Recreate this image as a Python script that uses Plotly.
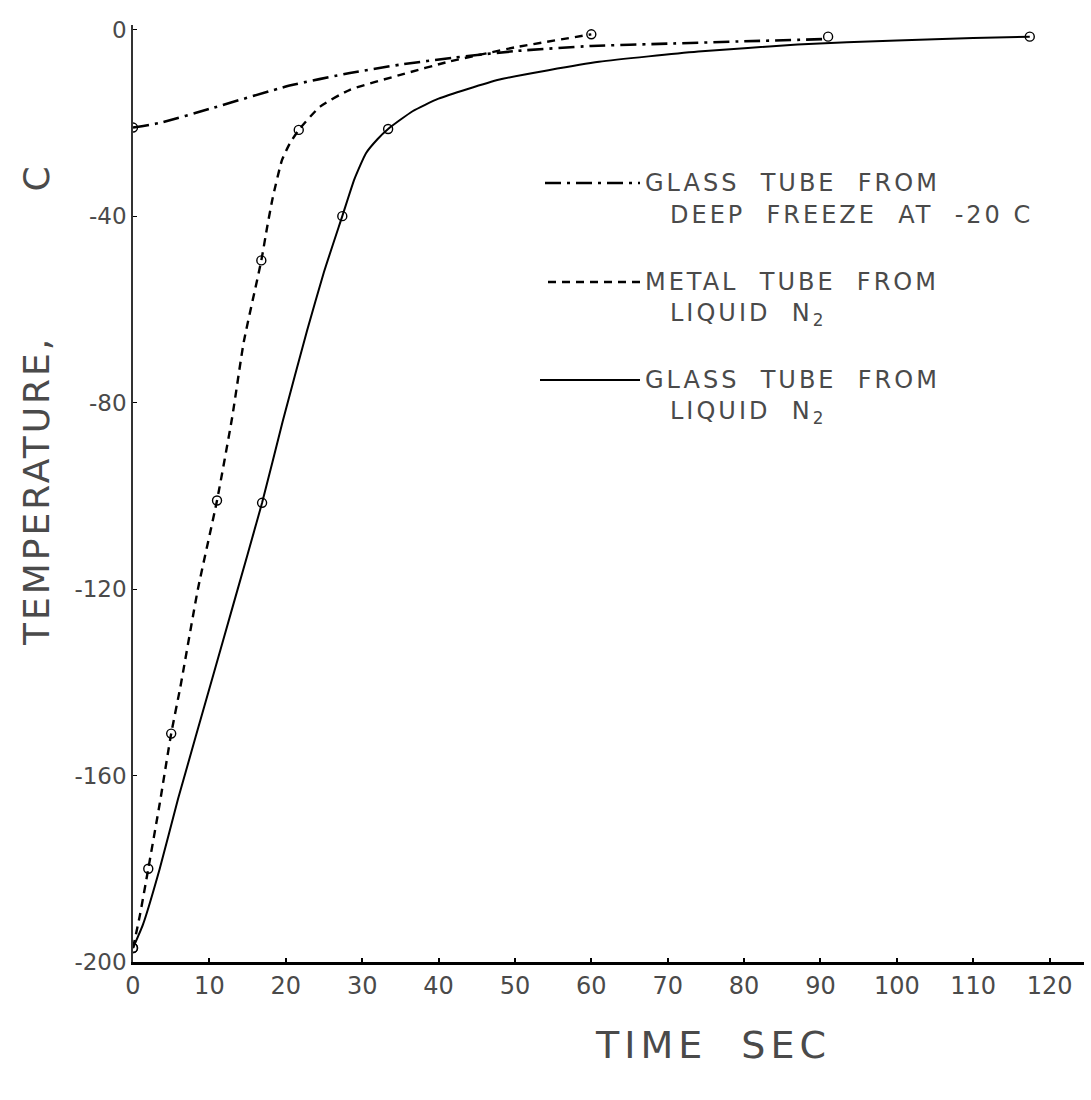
import plotly.graph_objects as go

# ---------------- data ----------------
# Glass tube from deep freeze at -20 C (dash-dot)
freeze_t = [0, 3.5, 10, 20.5, 28.4, 35, 42, 50, 60, 70, 80, 91]
freeze_T = [-21, -20, -17, -12, -9.3, -7.5, -6, -4.6, -3.5, -3, -2.5, -2]
freeze_mt = [0, 91]
freeze_mT = [-21, -1.5]

# Metal tube from liquid N2 (dashed)
metal_t = [0, 0.9, 2, 3.5, 5, 6.2, 8.5, 11, 13, 14.5, 16.8, 17.6, 18.3, 19.5, 20.5, 21.7, 24.5, 28.4, 35, 41.5, 50, 60]
metal_T = [-197, -190, -180, -166, -151, -141, -120, -101, -83, -67, -49.5, -42, -36, -28, -24.5, -21.5, -16.5, -12.9, -9.7, -6.8, -3.8, -1]
metal_mt = [0, 2, 5, 11, 16.8, 21.7, 60]
metal_mT = [-197, -180, -151, -101, -49.5, -21.5, -1]

# Glass tube from liquid N2 (solid)
glass_t = [0, 1.3, 3.5, 5.9, 10.5, 13.1, 16.9, 19.6, 22.8, 25, 27.4, 29, 30.5, 32, 33.4, 36.6, 40, 48, 61, 74, 87, 100, 110, 117.4]
glass_T = [-197, -192, -180, -165, -138.5, -123.5, -101.5, -84, -64.5, -52, -40, -32, -26.5, -23.5, -21.3, -17.5, -14.8, -10.7, -6.9, -4.7, -3.2, -2.3, -1.8, -1.5]
glass_mt = [0, 16.9, 27.4, 33.4, 117.4]
glass_mT = [-197, -101.5, -40, -21.3, -1.5]

x_ticks = [0, 10, 20, 30, 40, 50, 60, 70, 80, 90, 100, 110, 120]
x_ticktext = ["0", "10", "20", "30", "40", "50", "60", "70", "80", "90", "100", "110", "120"]
y_ticks = [-200, -160, -120, -80, -40, 0]
y_ticktext = ["-200", "-160", "-120", "-80", "-40", "0"]

legend_labels = [
    ("GLASS  TUBE  FROM", "DEEP  FREEZE  AT  -20 C"),
    ("METAL  TUBE  FROM", "LIQUID  N<sub>2</sub>"),
    ("GLASS  TUBE  FROM", "LIQUID  N<sub>2</sub>"),
]

# ---------------- figure ----------------
W, H = 1091, 1100
L, R, T, B = 133, 7, 25, 138
FONT = "DejaVu Sans"
TXT = "#4a4a4a"


def spaced(s, px):
    return '<span style="letter-spacing:%gpx">%s</span>' % (px, s)


fig = go.Figure()

line_styles = [
    (freeze_t, freeze_T, freeze_mt, freeze_mT, "16px,6px,3px,6px", 2.6),
    (metal_t, metal_T, metal_mt, metal_mT, "8px,6px", 2.4),
    (glass_t, glass_T, glass_mt, glass_mT, "solid", 2.0),
]
for xs, ys, mx, my, dash, w in line_styles:
    fig.add_trace(go.Scatter(x=xs, y=ys, mode="lines",
                             line=dict(color="black", width=w, dash=dash, shape="spline", smoothing=0.5),
                             showlegend=False, hoverinfo="skip"))
    fig.add_trace(go.Scatter(x=mx, y=my, mode="markers",
                             marker=dict(symbol="circle-open", size=9, color="black", line=dict(width=1.4)),
                             showlegend=False, hoverinfo="skip"))

fig.update_xaxes(range=[0, 124.5], tickvals=x_ticks, ticktext=x_ticktext,
                 showline=True, linecolor="black", linewidth=2.5,
                 ticks="inside", ticklen=4, tickcolor="black", tickwidth=1.5,
                 showgrid=False, zeroline=False,
                 tickfont=dict(family=FONT, size=24, color=TXT))
fig.update_yaxes(range=[-200, 1], tickvals=y_ticks, ticktext=y_ticktext,
                 showline=True, linecolor="#333", linewidth=1.5,
                 ticks="inside", ticklen=4, tickcolor="black", tickwidth=1.2,
                 showgrid=False, zeroline=False,
                 tickfont=dict(family=FONT, size=23, color=TXT))

pw = W - L - R
ph = H - T - B


def px_x(p):
    return (p - L) / pw


def px_y(p):
    return (H - B - p) / ph


# custom legend
sample_rows = [(545, 640, 183, "16px,6px,3px,6px", 2.6), (548, 640, 282, "8px,6px", 2.4), (540, 640, 380, "solid", 2.0)]
shapes = []
annotations = []
for (x0, x1, yy, dash, w), (l1, l2) in zip(sample_rows, legend_labels):
    shapes.append(dict(type="line", xref="paper", yref="paper",
                       x0=px_x(x0), x1=px_x(x1), y0=px_y(yy), y1=px_y(yy),
                       line=dict(color="black", width=w, dash=dash)))
    annotations.append(dict(xref="paper", yref="paper", x=px_x(x1 + 3), y=px_y(yy),
                            xanchor="left", yanchor="middle", showarrow=False, text=spaced(l1, 3),
                            font=dict(family=FONT, size=24, color=TXT)))
    annotations.append(dict(xref="paper", yref="paper", x=px_x(668), y=px_y(yy + 32),
                            xanchor="left", yanchor="middle", showarrow=False, text=spaced(l2, 3),
                            font=dict(family=FONT, size=24, color=TXT)))

annotations.append(dict(xref="paper", yref="paper", x=px_x(36), y=px_y(405),
                        xanchor="center", yanchor="middle", showarrow=False, textangle=-90,
                        text=spaced("TEMPERATURE,          C", 3), font=dict(family=FONT, size=36, color=TXT)))
annotations.append(dict(xref="paper", yref="paper", x=px_x(713), y=px_y(1045),
                        xanchor="center", yanchor="middle", showarrow=False,
                        text=spaced("TIME  SEC", 5), font=dict(family=FONT, size=38, color=TXT)))

fig.update_layout(width=W, height=H, margin=dict(l=L, r=R, t=T, b=B),
                  paper_bgcolor="white", plot_bgcolor="white",
                  shapes=shapes, annotations=annotations, showlegend=False)

fig.write_html("out.html")
